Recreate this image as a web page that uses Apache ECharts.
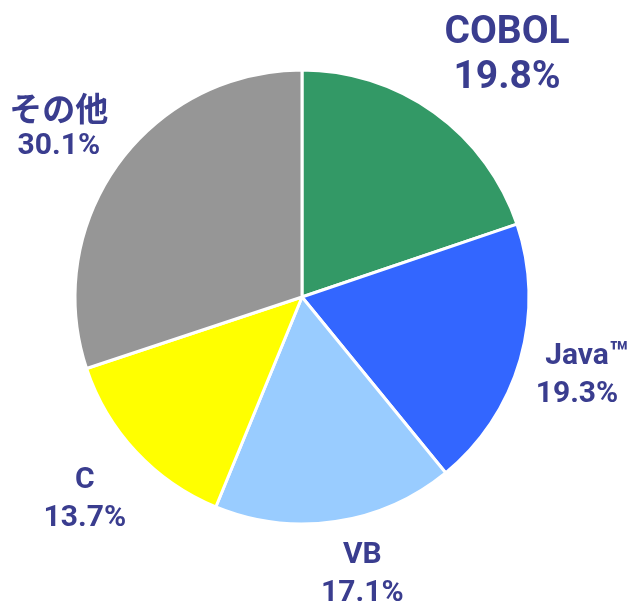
<!DOCTYPE html>
<html>
<head>
<meta charset="utf-8">
<script src="https://cdn.jsdelivr.net/npm/echarts@6/dist/echarts.min.js"></script>
<style>
html,body{margin:0;padding:0;background:#fff;}
#chart{width:628px;height:605px;}
</style>
</head>
<body>
<div id="chart"></div>
<script>
const categories = ['COBOL', 'Java', 'VB', 'C', 'その他'];
const values = [19.8, 19.3, 17.1, 13.7, 30.1];
const sliceColors = ['#339966', '#3366ff', '#99ccff', '#ffff00', '#969696'];
const labelLen = [70, 57, 54, 70, 63];
const labelLen2 = [27, -3, 14, -5, 3];

const textColor = '#3a3d8f';
const font = 'Roboto, "Noto Sans CJK JP", sans-serif';

const rich = {
  n: { fontFamily: font, fontWeight: 'bold', fontSize: 30, lineHeight: 38, color: textColor, align: 'center' },
  v: { fontFamily: font, fontWeight: 'bold', fontSize: 30, lineHeight: 38, color: textColor, align: 'center' },
  j: { fontFamily: '"Noto Sans CJK JP", sans-serif', fontWeight: 'bold', fontSize: 33, lineHeight: 38, color: textColor, align: 'center' },
  nL: { fontFamily: font, fontWeight: 'bold', fontSize: 39, lineHeight: 45, color: textColor, align: 'center' },
  vL: { fontFamily: font, fontWeight: 'bold', fontSize: 39, lineHeight: 45, color: textColor, align: 'center' },
  pad: { width: 20, fontSize: 20, lineHeight: 38 },
  tm: { fontFamily: font, fontWeight: 'bold', fontSize: 32, lineHeight: 38, width: 20, color: textColor, align: 'left' }
};

function labelText(i) {
  const name = categories[i];
  const val = values[i].toFixed(1) + '%';
  if (i === 0) return '{nL|' + name + '}\n{vL|' + val + '}';
  if (name === 'Java') return '{pad|}{n|' + name + '}{tm|™}\n{v|' + val + '}';
  if (/[^\x00-\x7f]/.test(name)) return '{j|' + name + '}\n{v|' + val + '}';
  return '{n|' + name + '}\n{v|' + val + '}';
}

const data = categories.map((name, i) => ({
  name: name,
  value: values[i],
  itemStyle: { color: sliceColors[i] },
  label: { formatter: labelText(i) },
  labelLine: { show: false, length: labelLen[i], length2: labelLen2[i] }
}));

const chart = echarts.init(document.getElementById('chart'), null, { renderer: 'canvas' });
chart.setOption({
  backgroundColor: '#ffffff',
  animation: false,
  series: [{
    type: 'pie',
    center: [302, 297],
    radius: 227,
    startAngle: 90,
    clockwise: true,
    avoidLabelOverlap: false,
    silent: true,
    itemStyle: { borderColor: '#ffffff', borderWidth: 3 },
    label: { show: true, position: 'outside', rich: rich, distanceToLabelLine: 5 },
    labelLayout: function () { return { align: 'center', verticalAlign: 'middle' }; },
    emphasis: { disabled: true },
    data: data
  }]
});
</script>
</body>
</html>
